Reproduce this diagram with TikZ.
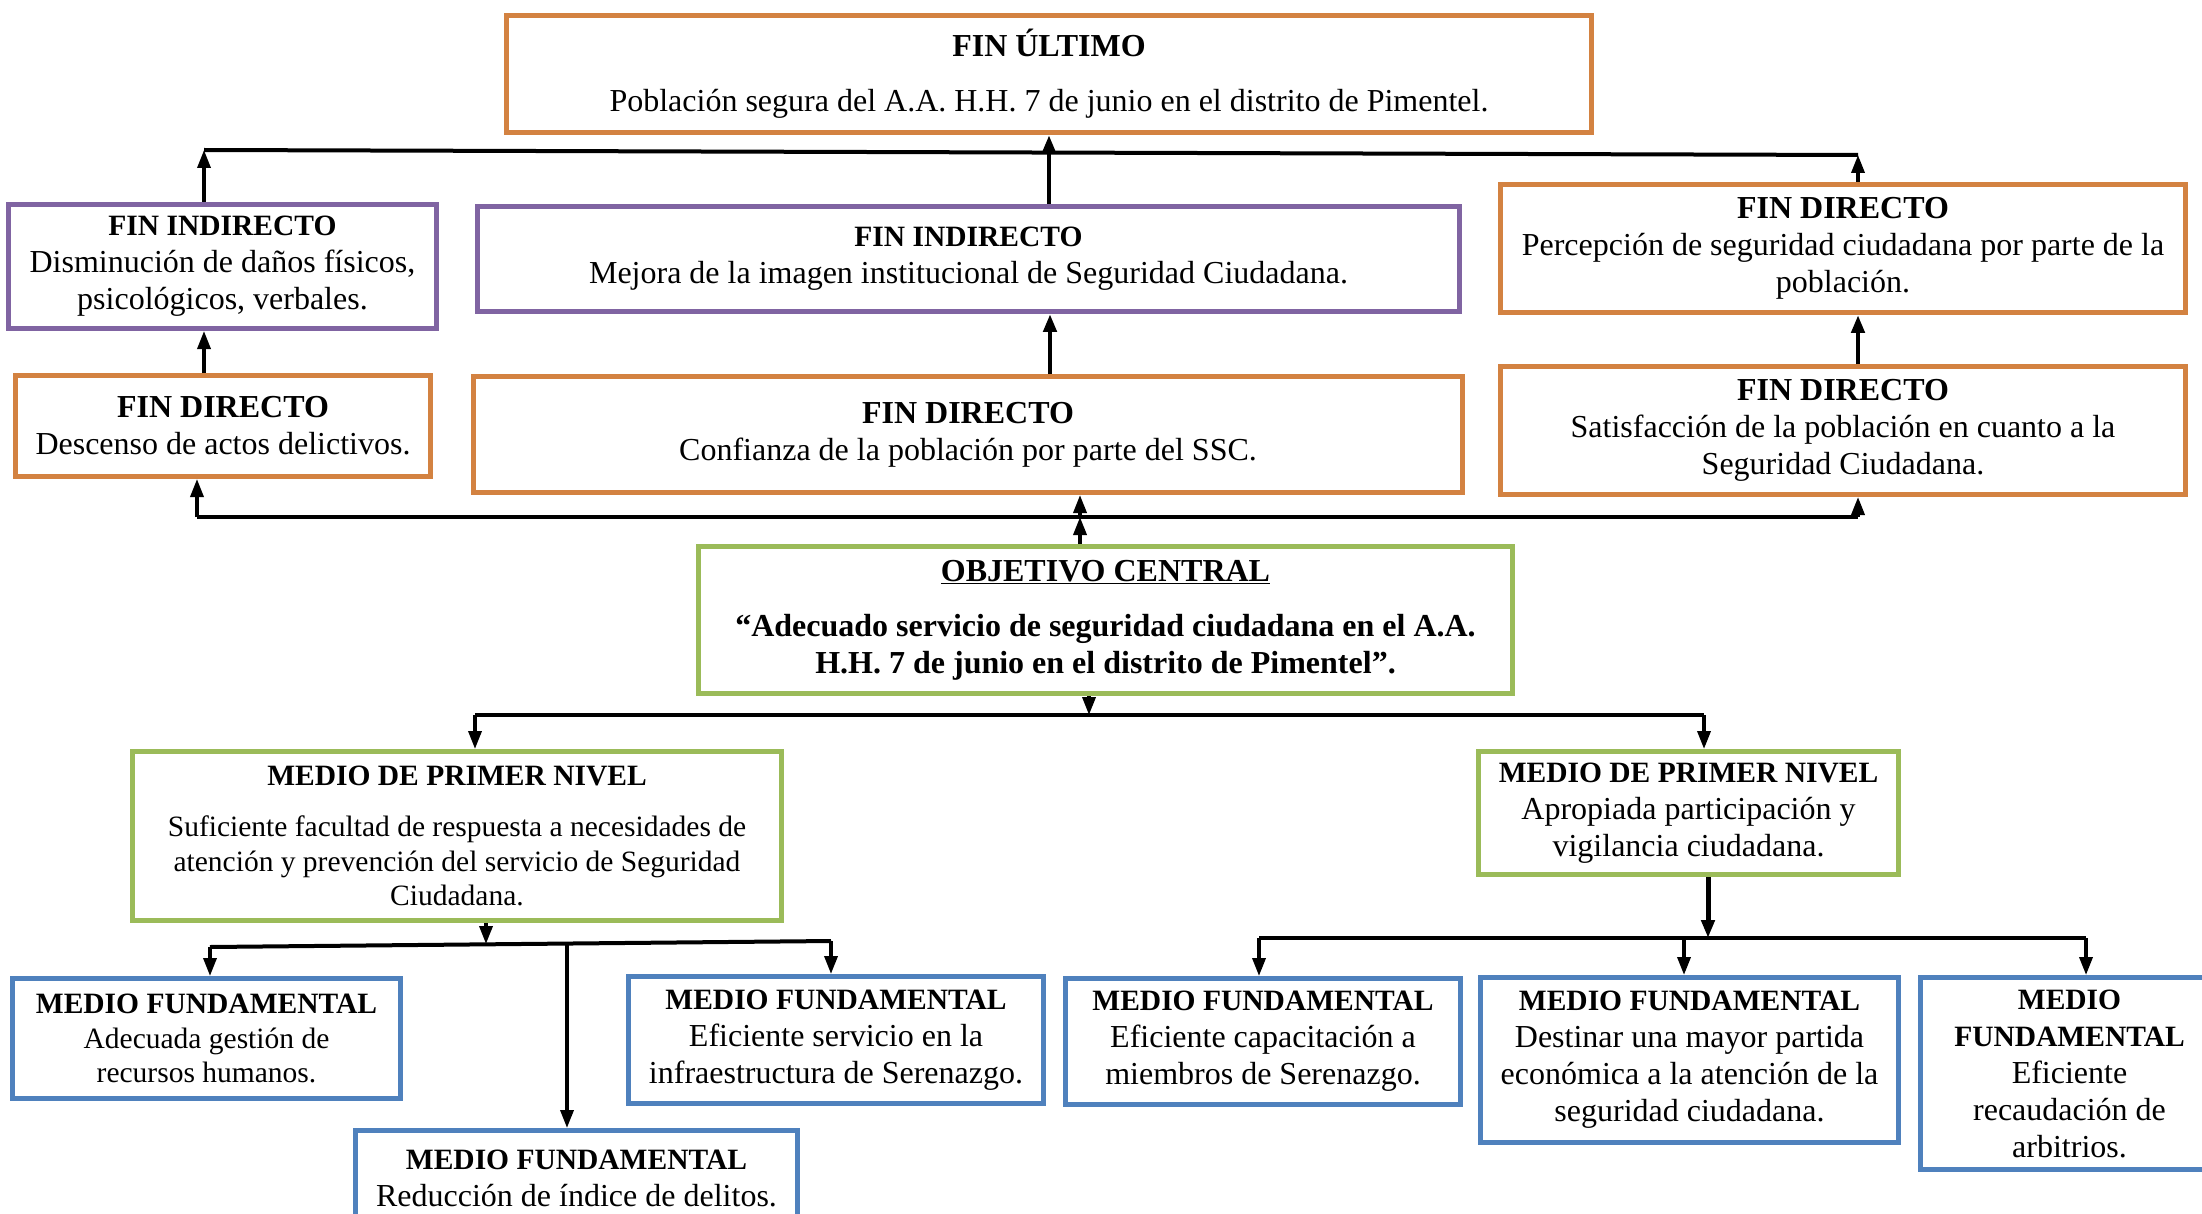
\documentclass[tikz,border=0pt]{standalone}
\usepackage{fontspec}
\setmainfont{Liberation Serif}
\usetikzlibrary{arrows.meta}
\definecolor{ocol}{HTML}{D38241}
\definecolor{pcol}{HTML}{8064A2}
\definecolor{gcol}{HTML}{9BBB59}
\definecolor{bcol}{HTML}{4F81BD}
\newcommand{\smtitle}[1]{{\fontsize{29.5}{34}\selectfont\textbf{#1}}}
\begin{document}
\begin{tikzpicture}[x=1pt,y=-1pt,
  box/.style={draw, line width=5pt, inner sep=0pt, align=center, anchor=north west,
    font=\fontsize{32}{37}\selectfont},
  smallbox/.style={box, font=\fontsize{29.5}{34.5}\selectfont},
  bar/.style={line width=4pt},
  arr/.style={line width=3.5pt, -{Triangle[length=18pt,width=13pt]}}]
\useasboundingbox (0,0) rectangle (2202,1214);
\fill[white] (0,0) rectangle (2202,1214);

% ---- top level
\node[box, draw=ocol, minimum width=1085pt, minimum height=117pt] (ult) at (504,13)
  {\textbf{FIN ÚLTIMO}\\[18pt]Población segura del A.A. H.H. 7 de junio en el distrito de Pimentel.};

\node[box, draw=pcol, minimum width=428pt, minimum height=124pt] (fi1) at (6,202)
  {\smtitle{FIN INDIRECTO}\\Disminución de daños físicos,\\psicológicos, verbales.};
\node[box, draw=pcol, minimum width=982pt, minimum height=105pt] (fi2) at (475,204)
  {\smtitle{FIN INDIRECTO}\\Mejora de la imagen institucional de Seguridad Ciudadana.};
\node[box, draw=ocol, minimum width=685pt, minimum height=128pt] (fd3) at (1498,182)
  {\textbf{FIN DIRECTO}\\Percepción de seguridad ciudadana por parte de la\\población.};

\node[box, draw=ocol, minimum width=415pt, minimum height=101pt] (fd1) at (13,373)
  {\textbf{FIN DIRECTO}\\Descenso de actos delictivos.};
\node[box, draw=ocol, minimum width=989pt, minimum height=116pt] (fd2) at (471,374)
  {\textbf{FIN DIRECTO}\\Confianza de la población por parte del SSC.};
\node[box, draw=ocol, minimum width=685pt, minimum height=128pt] (fd4) at (1498,364)
  {\textbf{FIN DIRECTO}\\Satisfacción de la población en cuanto a la\\Seguridad Ciudadana.};

% ---- central
\node[box, draw=gcol, minimum width=814pt, minimum height=147pt] (obj) at (696,544)
  {\textbf{\underline{OBJETIVO CENTRAL}}\\[18pt]\textbf{“Adecuado servicio de seguridad ciudadana en el A.A.}\\\textbf{H.H. 7 de junio en el distrito de Pimentel”.}};

% ---- medios de primer nivel
\node[smallbox, draw=gcol, minimum width=649pt, minimum height=169pt] (mp1) at (130,749)
  {\smtitle{MEDIO DE PRIMER NIVEL}\\[17pt]Suficiente facultad de respuesta a necesidades de\\atención y prevención del servicio de Seguridad\\Ciudadana.};
\node[box, draw=gcol, minimum width=420pt, minimum height=123pt] (mp2) at (1476,749)
  {\smtitle{MEDIO DE PRIMER NIVEL}\\Apropiada participación y\\vigilancia ciudadana.};

% ---- medios fundamentales
\node[smallbox, draw=bcol, minimum width=388pt, minimum height=120pt] (mf1) at (10,976)
  {\smtitle{MEDIO FUNDAMENTAL}\\Adecuada gestión de\\recursos humanos.};
\node[box, draw=bcol, minimum width=415pt, minimum height=127pt] (mf2) at (626,974)
  {\smtitle{MEDIO FUNDAMENTAL}\\Eficiente servicio en la\\infraestructura de Serenazgo.};
\node[box, draw=bcol, minimum width=442pt, minimum height=96pt] (mf3) at (353,1128)
  {\smtitle{MEDIO FUNDAMENTAL}\\Reducción de índice de delitos.};
\node[box, draw=bcol, minimum width=395pt, minimum height=126pt] (mf4) at (1063,976)
  {\smtitle{MEDIO FUNDAMENTAL}\\Eficiente capacitación a\\miembros de Serenazgo.};
\node[box, draw=bcol, minimum width=418pt, minimum height=165pt] (mf5) at (1478,975)
  {\smtitle{MEDIO FUNDAMENTAL}\\Destinar una mayor partida\\económica a la atención de la\\seguridad ciudadana.};
\node[box, draw=bcol, minimum width=298pt, minimum height=192pt] (mf6) at (1918,975)
  {\smtitle{MEDIO}\\\smtitle{FUNDAMENTAL}\\Eficiente\\recaudación de\\arbitrios.};

% ---- junction coordinates
\coordinate (tb1) at (204,150);
\coordinate (tb2) at (1858,155);
\coordinate (xm) at (1050,0);
\coordinate (lb1) at (197,517);
\coordinate (lbm) at (1080,517);
\coordinate (lb2) at (1858,517);
\coordinate (ob) at (1089,715);
\coordinate (ob1) at (475,715);
\coordinate (ob2) at (1704,715);
\coordinate (mb) at (486,944);
\coordinate (mb1) at (210,947);
\coordinate (mbm) at (567,944);
\coordinate (mb2) at (831,941);
\coordinate (nb) at (1708,938);
\coordinate (nb1) at (1259,938);
\coordinate (nbm) at (1684,938);
\coordinate (nb2) at (2086,938);

% ---- upper connectors
\draw[bar] (tb1) -- (tb2);
\draw[arr] (fi1.north -| tb1) -- (tb1);
\draw[arr, line width=4.5pt] (fi2.north -| ult.south) -- (ult.south);
\draw[arr] (fd3.north -| tb2) -- (tb2);
\draw[arr] (fd1.north -| tb1) -- (fi1.south -| tb1);
\draw[arr, line width=4.5pt] (fd2.north -| xm) -- (fi2.south -| xm);
\draw[arr, line width=4.5pt] (fd4.north -| tb2) -- (fd3.south -| tb2);

% ---- connectors below fines directos
\draw[bar] (lb1) -- (lb2);
\draw[arr] (lb1) -- (fd1.south -| lb1);
\draw[arr] (lbm) -- (fd2.south -| lbm);
\draw[arr] (lb2) -- (fd4.south -| lb2);
\draw[arr] (obj.north -| lbm) -- (lbm);

% ---- objetivo to medios de primer nivel
\draw[arr] (obj.south -| ob) -- (ob);
\draw[bar] (ob1) -- (ob2);
\draw[arr] (ob1) -- (mp1.north -| ob1);
\draw[arr] (ob2) -- (mp2.north -| ob2);

% ---- medio de primer nivel (left) to medios fundamentales
\draw[arr] (mp1.south -| mb) -- (mb);
\draw[bar] (mb1) -- (mb2);
\draw[arr] (mb1) -- (mf1.north -| mb1);
\draw[arr] (mb2) -- (mf2.north -| mb2);
\draw[arr] (mbm) -- (mf3.north -| mbm);

% ---- medio de primer nivel (right) to medios fundamentales
\draw[arr, line width=5pt] (mp2.south -| nb) -- (nb);
\draw[bar] (nb1) -- (nb2);
\draw[arr] (nb1) -- (mf4.north -| nb1);
\draw[arr] (nbm) -- (mf5.north -| nbm);
\draw[arr] (nb2) -- (mf6.north -| nb2);
\end{tikzpicture}
\end{document}
